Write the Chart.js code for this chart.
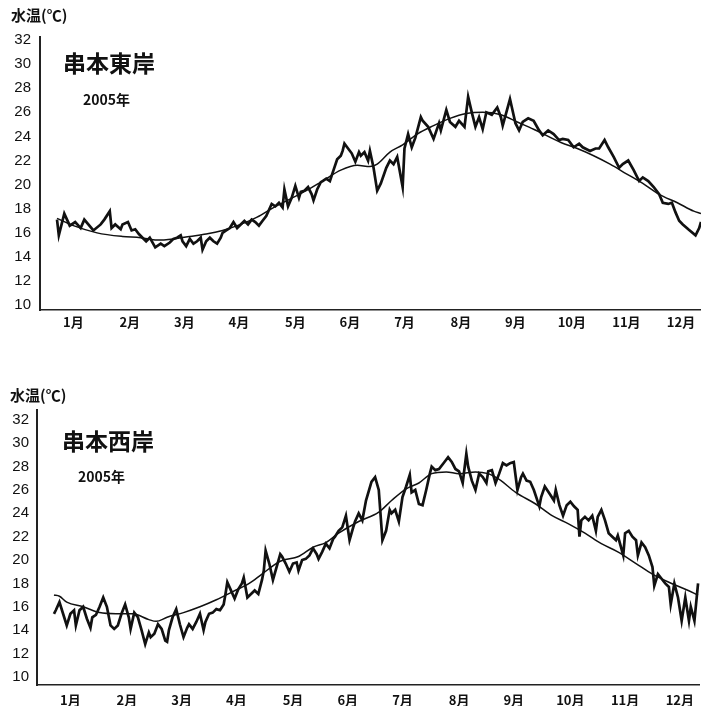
<!DOCTYPE html>
<html><head><meta charset="utf-8">
<script src="https://cdn.jsdelivr.net/npm/chart.js@4.4.0/dist/chart.umd.min.js"></script>
<style>
html,body{margin:0;padding:0;background:#fff;width:701px;height:706px;overflow:hidden;position:relative;}
canvas{position:absolute;left:0;}
.t{position:absolute;color:#111;white-space:nowrap;font-family:"Noto Sans CJK JP","Noto Sans CJK SC",sans-serif;line-height:1;font-weight:bold;}
</style></head><body>
<canvas id="east" width="701" height="340" style="top:0px"></canvas>
<canvas id="west" width="701" height="336" style="top:370px"></canvas>
<div class="t" style="left:11px;top:7px;font-size:15px;">水温(℃)</div>
<div class="t" style="left:63px;top:51px;font-size:23px;">串本東岸</div>
<div class="t" style="left:83px;top:92px;font-size:14px;">2005年</div>
<div class="t" style="left:10px;top:387px;font-size:15px;">水温(℃)</div>
<div class="t" style="left:62px;top:429px;font-size:23px;">串本西岸</div>
<div class="t" style="left:78px;top:469px;font-size:14px;">2005年</div>
<script>
// month tick labels and their positions (day of year)
const monthLabels = ['1月','2月','3月','4月','5月','6月','7月','8月','9月','10月','11月','12月'];
const monthTickDays = [15,46,76,106,137,167,197,228,258,289,319,349];
const yTicks = [10,12,14,16,18,20,22,24,26,28,30,32];

// 串本東岸 daily water temperature (day of year, °C)
const eastDays = [
 6,7,10,13,16,19,21,26,30,32,
 35,36,38,41,42,45,47,49,51,53,
 55,57,60,63,65,68,70,72,74,75,
 77,79,81,83,85,86,88,90,92,94,
 96,97,99,101,103,105,107,109,111,113,
 115,117,119,121,124,126,128,130,131,133,
 135,137,139,140,142,144,146,147,149,151,
 152,154,156,158,160,162,163,164,166,168,
 170,172,173,175,177,178,180,182,184,187,
 189,191,193,196,197,199,201,203,206,207,
 210,213,216,217,220,222,225,227,230,232,
 234,236,238,240,242,245,248,250,251,253,
 255,258,260,262,265,268,271,273,276,279,
 282,284,287,290,293,295,299,302,304,307,
 309,312,315,317,320,323,326,328,331,334,
 337,339,342,344,346,348,350,353,357,359,
 360];
const eastTemps = [
 17.1,15.8,17.6,16.6,16.9,16.4,17.1,16.2,16.7,17.1,
 17.8,16.4,16.7,16.3,16.7,16.9,16.2,16.3,15.9,15.6,
 15.3,15.6,14.8,15.1,14.9,15.2,15.5,15.6,15.8,15.3,
 14.9,15.5,15.1,15.3,15.6,14.6,15.3,15.6,15.3,15.1,
 15.6,16.0,16.2,16.4,16.9,16.4,16.7,17.0,16.7,17.1,
 16.9,16.6,17.0,17.4,18.4,18.2,18.5,18.1,19.6,18.2,
 18.9,19.9,18.9,19.4,19.5,19.8,19.2,18.7,19.6,20.2,
 20.3,20.5,20.3,21.2,22.1,22.4,22.8,23.4,23.0,22.6,
 21.9,22.7,22.4,22.7,22.0,22.8,21.4,19.5,20.1,21.4,
 22.0,21.7,22.3,19.8,23.0,24.2,23.1,23.9,25.6,25.3,
 24.8,23.8,25.1,24.5,26.2,25.2,24.8,25.3,24.8,27.3,
 26.0,24.8,25.6,24.6,26.0,25.8,26.4,25.6,24.9,26.0,
 27.1,25.1,24.5,25.2,25.5,25.3,24.5,24.1,24.5,24.2,
 23.7,23.8,23.7,23.1,23.4,23.1,22.8,23.0,23.0,23.7,
 23.1,22.3,21.4,21.7,22.0,21.2,20.3,20.6,20.3,19.8,
 19.2,18.5,18.4,18.5,17.7,17.0,16.7,16.3,15.8,16.4,
 16.9];
// 串本東岸 normal (smooth) curve
const eastTrendDays = [6,15,28,42,52,61,70,79,88,97,107,116,125,134,143,152,162,171,178,182,189,196,204,213,222,231,240,250,259,268,283,292,301,310,319,328,337,347,356,360];
const eastTrend = [17.2,16.6,16.0,15.7,15.6,15.4,15.5,15.7,15.9,16.2,16.7,17.3,18.1,18.8,19.5,20.3,21.2,21.6,21.5,21.7,22.7,23.3,24.2,24.9,25.5,25.9,26.0,25.8,25.2,24.6,23.5,23.0,22.4,21.7,20.9,20.1,19.2,18.5,17.8,17.6];

// 串本西岸 daily water temperature
const westDays = [
 6,7,9,11,13,15,17,18,20,22,
 24,26,27,29,31,33,35,37,39,41,
 43,45,47,48,50,52,54,56,58,59,
 61,63,65,67,68,69,71,73,75,77,
 79,80,82,84,86,88,89,91,93,95,
 97,99,100,101,103,105,107,109,110,112,
 114,116,118,120,121,122,124,126,128,130,
 131,133,135,137,139,140,142,144,146,148,
 150,151,153,155,157,159,160,162,164,166,
 168,170,171,173,175,177,180,182,184,186,
 188,190,191,193,195,197,199,201,202,204,
 206,208,210,212,213,215,217,220,222,224,
 226,228,230,232,233,235,237,239,241,243,
 244,246,248,250,252,254,256,258,260,262,
 263,265,267,269,272,273,275,278,280,281,
 283,285,287,289,291,293,294,295,297,299,
 301,303,304,306,308,310,312,314,315,318,
 319,321,323,325,326,328,330,332,334,335,
 337,339,341,343,344,346,348,350,352,354,
 355,357,359];
const westTemps = [
 15.4,15.7,16.4,15.4,14.4,15.4,15.7,14.4,15.7,16.0,
 15.0,14.2,15.1,15.3,16.0,16.8,16.0,14.4,14.1,14.4,
 15.4,16.2,15.1,14.1,15.5,15.1,14.0,12.8,13.8,13.4,
 13.7,14.5,14.1,13.1,13.0,14.0,15.1,15.8,14.5,13.4,
 14.2,14.5,14.1,14.7,15.4,14.0,14.7,15.4,15.5,15.8,
 15.7,16.2,17.1,18.1,17.4,16.7,17.5,18.0,18.5,16.8,
 17.1,17.4,17.1,18.3,19.1,20.8,19.7,18.3,19.4,20.5,
 20.3,19.7,19.0,19.7,19.8,19.1,20.0,20.1,20.4,21.0,
 20.5,20.1,20.7,21.4,21.0,21.8,22.0,22.5,22.8,23.8,
 21.7,22.8,23.3,24.0,23.4,25.1,26.7,27.1,26.0,21.7,
 22.5,24.3,24.0,24.3,23.3,25.4,26.3,27.3,25.8,26.0,
 24.8,24.7,26.0,27.4,28.0,27.7,27.8,28.4,28.8,28.4,
 27.8,27.6,26.6,29.1,28.0,26.8,26.0,27.4,27.1,26.6,
 27.6,27.7,26.6,27.4,28.3,28.1,28.3,28.4,26.0,27.1,
 27.4,26.8,26.7,26.0,24.6,25.4,26.3,25.6,25.1,26.0,
 24.7,23.8,24.7,25.0,24.6,24.3,22.0,23.4,23.7,23.4,
 23.8,22.5,23.7,24.3,23.4,22.3,22.0,21.7,22.1,20.4,
 22.3,22.5,22.0,21.7,20.4,21.5,21.1,20.4,19.4,17.8,
 18.8,18.4,18.0,17.7,16.2,18.0,16.8,14.8,16.8,14.8,
 16.0,14.8,18.0];
// 串本西岸 normal (smooth) curve
const westTrendDays = [6,9,13,22,31,40,49,58,62,68,77,86,95,104,113,120,130,140,148,155,162,173,184,191,199,206,213,221,228,237,244,248,251,259,270,279,288,297,306,315,325,334,343,352,359];
const westTrend = [17.0,16.9,16.4,16.0,15.5,15.4,15.4,14.9,14.75,15.1,15.5,16.0,16.6,17.3,18.0,18.8,19.9,20.3,21.1,21.5,22.3,23.3,24.1,25.1,26.1,26.6,27.4,27.55,27.4,27.55,27.4,27.1,26.8,25.8,24.8,23.8,23.1,22.3,21.4,20.7,19.7,18.8,18.1,17.5,17.0];

const toPts = (xs, ys) => xs.map((x, i) => ({x: x, y: ys[i]}));

function makeChart(id, days, temps, tDays, trend, cfg) {
  return new Chart(document.getElementById(id), {
    type: 'line',
    data: { datasets: [
      { data: toPts(days, temps), borderColor: '#111', borderWidth: 2.7, pointRadius: 0, tension: 0, fill: false },
      { data: toPts(tDays, trend), borderColor: '#111', borderWidth: 1.5, pointRadius: 0, tension: 0.4, cubicInterpolationMode: 'monotone', fill: false }
    ]},
    options: {
      responsive: false, animation: false, events: [],
      layout: { padding: { top: cfg.top, left: 0, right: 0, bottom: 0 } },
      plugins: { legend: { display: false }, tooltip: { enabled: false }, title: { display: false } },
      scales: {
        x: {
          type: 'linear', min: cfg.xMin, max: cfg.xMax,
          afterBuildTicks: s => { s.ticks = monthTickDays.map(v => ({ value: v })); },
          afterFit: s => { s.height = cfg.xH; },
          ticks: { callback: v => monthLabels[monthTickDays.indexOf(v)], autoSkip: false, maxRotation: 0,
                   color: '#111', padding: cfg.xPad,
                   font: { family: '"Noto Sans CJK JP", sans-serif', size: 13, weight: 'bold' } },
          grid: { display: false, drawTicks: false },
          border: { display: true, color: '#222', width: 1.6 }
        },
        y: {
          type: 'linear', min: cfg.yMin, max: cfg.yMax,
          afterBuildTicks: s => { s.ticks = yTicks.map(v => ({ value: v })); },
          afterFit: s => { s.width = cfg.yW; },
          ticks: { color: '#111', padding: cfg.yPad,
                   font: { family: '"Liberation Sans", Arial, sans-serif', size: 15 } },
          grid: { display: false, drawTicks: false },
          border: { display: true, color: '#222', width: 2 }
        }
      }
    }
  });
}

makeChart('east', eastDays, eastTemps, eastTrendDays, eastTrend,
  { top: 37, xH: 30, xPad: 4, yW: 40, yPad: 9, xMin: -3.35, xMax: 360, yMin: 9.6, yMax: 32.25 });
makeChart('west', westDays, westTemps, westTrendDays, westTrend,
  { top: 40, xH: 21, xPad: 7, yW: 37, yPad: 8, xMin: -3.3, xMax: 360, yMin: 9.3, yMax: 32.85 });
</script>
</body></html>
